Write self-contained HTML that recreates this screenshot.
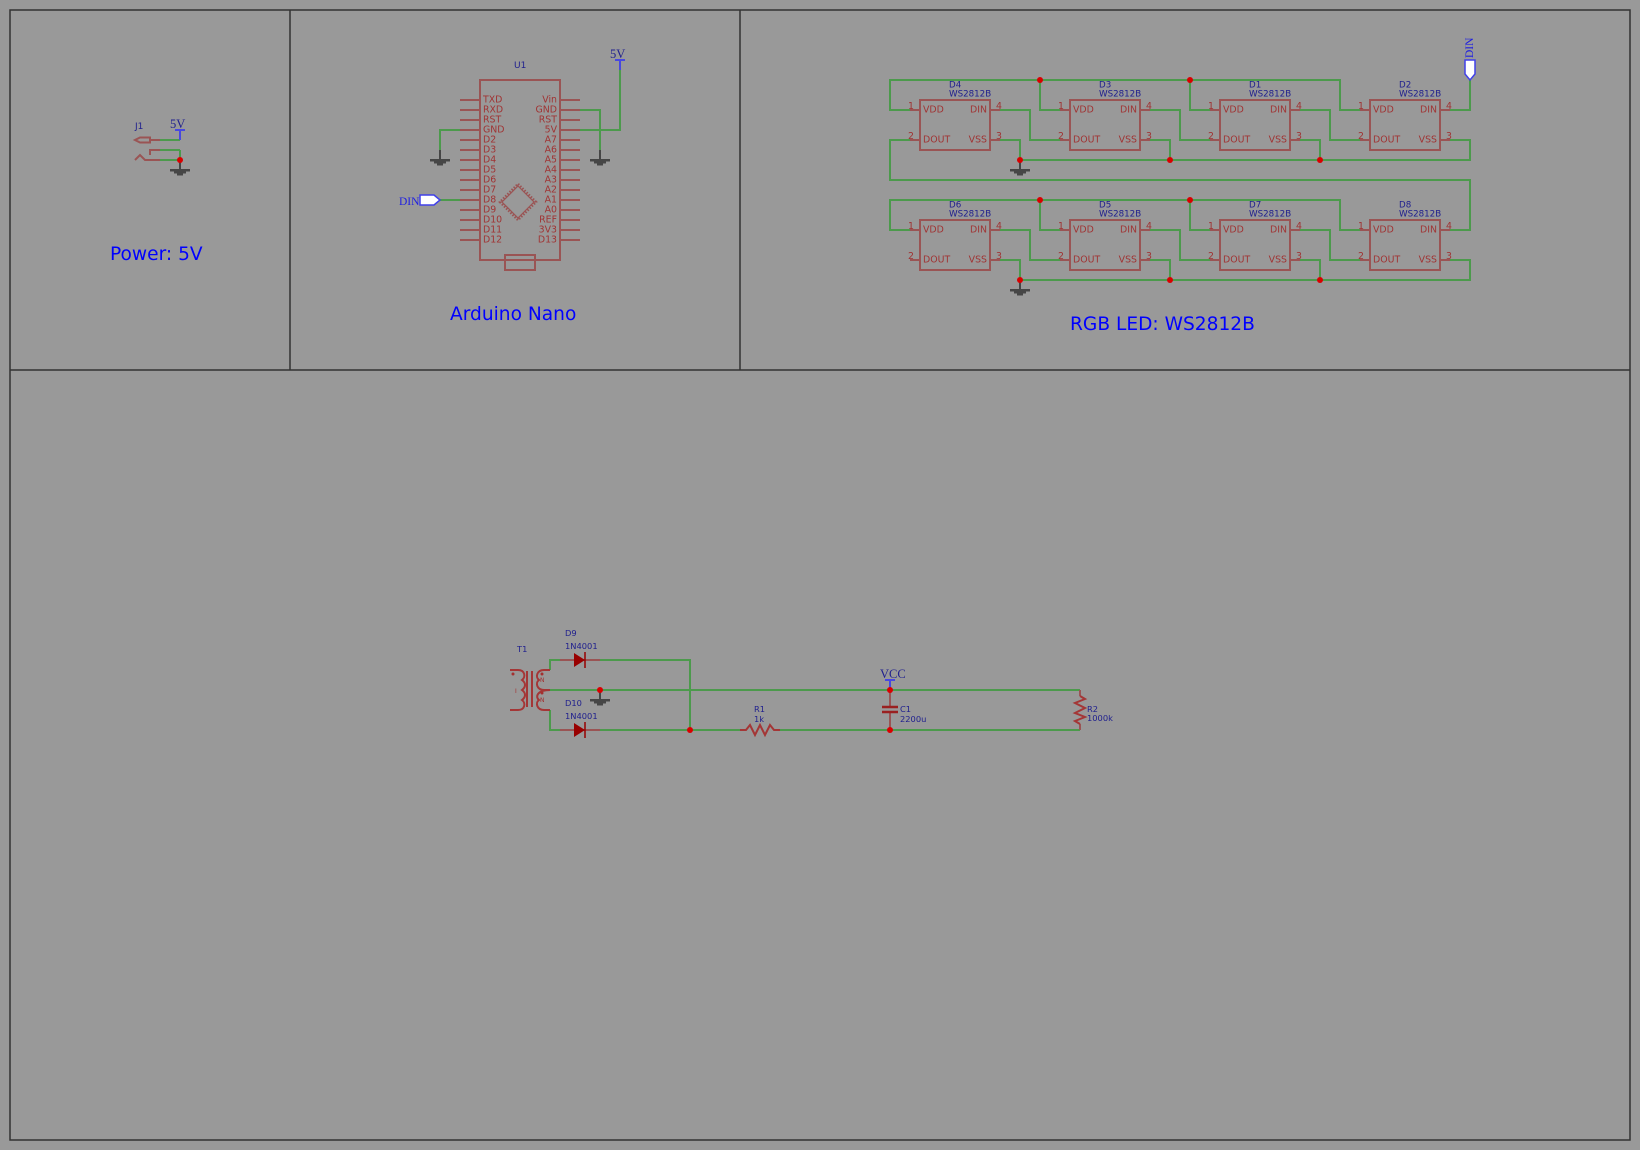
<!DOCTYPE html>
<html><head><meta charset="utf-8"><style>
html,body{margin:0;padding:0;background:#999;width:1640px;height:1150px;overflow:hidden}
svg{display:block}
text{font-family:"DejaVu Sans","Liberation Sans",sans-serif}
.w{stroke:#4c9a4c;stroke-width:2;fill:none}
.b{stroke:#9a5454;stroke-width:2;fill:none}
.r{stroke:#a43636;stroke-width:2;fill:none}
.k{stroke:#464646;stroke-width:2;fill:none}
.n{stroke:#4848e0;stroke-width:2;fill:none}
.p{fill:#a03434;font-size:9.4px;transform:translateY(-1px)}
.q{fill:#a03434;font-size:9.4px;text-anchor:middle}
.l{fill:#20208e;font-size:8.7px;transform:translateY(.5px)}
.s{fill:#20208e;font-size:8.3px;transform:translateY(-1px)}
.v{fill:#20208e;font-family:"Liberation Serif",serif;font-size:12.500px;transform:translateY(-1px)}
.d{fill:#2020e0;font-family:"Liberation Serif",serif;font-size:11.500px}
.t{fill:#0000ff;font-size:18.600px}
.e{text-anchor:end}
.j{fill:#d80000}
.g{fill:#464646}
</style></head><body>
<svg width="1640" height="1150" viewBox="0 0 1640 1150" xmlns="http://www.w3.org/2000/svg">
<rect width="1640" height="1150" fill="#999"/>
<g stroke="#333" stroke-width="1.500" fill="none">
<rect x="10" y="10" width="1620" height="1130"/>
<path d="M290 10V370M740 10V370M10 370H1630"/>
</g>

<!-- Power -->
<path class="w" d="M160 140H180M180 150H160M180 150V160H160"/>
<path class="b" d="M160 140H150M150 137.500H140L135 140L140 142.500H150ZM160 150H150V155M160 160H145L140 155L135 160"/>
<path class="n" d="M180 140V130M175 130H185"/>
<text class="s" x="135" y="130" style="font-size:9px">J1</text>
<text class="v" x="170" y="129">5V</text>
<path class="k" d="M180 160V170"/>
<path class="g" d="M170 169H190V171.500H186V173.500H183V175.500H177V173.500H174V171.500H170Z"/>
<circle class="j" cx="180" cy="160" r="3"/>
<text class="t" x="110" y="260">Power: 5V</text>

<!-- Arduino -->
<rect class="b" x="480" y="80" width="80" height="180"/>
<rect class="b" x="505" y="255" width="30" height="15"/>
<path class="b" d="M460 100H480M460 110H480M460 120H480M460 130H480M460 140H480M460 150H480M460 160H480M460 170H480M460 180H480M460 190H480M460 200H480M460 210H480M460 220H480M460 230H480M460 240H480M560 100H580M560 110H580M560 120H580M560 130H580M560 140H580M560 150H580M560 160H580M560 170H580M560 180H580M560 190H580M560 200H580M560 210H580M560 220H580M560 230H580M560 240H580"/>
<polygon points="518,186 534,202 518,218 502,202" fill="none" stroke="#9a5454" stroke-width="1.200"/>
<polygon points="518,184 536,202 518,220 500,202" fill="none" stroke="#9a5454" stroke-width="2.500" stroke-dasharray="1.500 1.500"/>
<text class="p" x="483" y="103.500">TXD</text><text class="p" x="483" y="113.500">RXD</text><text class="p" x="483" y="123.500">RST</text><text class="p" x="483" y="133.500">GND</text><text class="p" x="483" y="143.500">D2</text><text class="p" x="483" y="153.500">D3</text><text class="p" x="483" y="163.500">D4</text><text class="p" x="483" y="173.500">D5</text><text class="p" x="483" y="183.500">D6</text><text class="p" x="483" y="193.500">D7</text><text class="p" x="483" y="203.500">D8</text><text class="p" x="483" y="213.500">D9</text><text class="p" x="483" y="223.500">D10</text><text class="p" x="483" y="233.500">D11</text><text class="p" x="483" y="243.500">D12</text>
<text class="p e" x="557" y="103.500">Vin</text><text class="p e" x="557" y="113.500">GND</text><text class="p e" x="557" y="123.500">RST</text><text class="p e" x="557" y="133.500">5V</text><text class="p e" x="557" y="143.500">A7</text><text class="p e" x="557" y="153.500">A6</text><text class="p e" x="557" y="163.500">A5</text><text class="p e" x="557" y="173.500">A4</text><text class="p e" x="557" y="183.500">A3</text><text class="p e" x="557" y="193.500">A2</text><text class="p e" x="557" y="203.500">A1</text><text class="p e" x="557" y="213.500">A0</text><text class="p e" x="557" y="223.500">REF</text><text class="p e" x="557" y="233.500">3V3</text><text class="p e" x="557" y="243.500">D13</text>
<text class="s" x="514" y="69" style="font-size:9px">U1</text>
<path class="w" d="M460 130H440V150M580 110H600V150M580 130H620V70M440 200H460"/>
<path class="k" d="M440 150V160M600 150V160"/>
<path class="g" d="M430 159H450V161.500H446V163.500H443V165.500H437V163.500H434V161.500H430Z"/>
<path class="g" d="M590 159H610V161.500H606V163.500H603V165.500H597V163.500H594V161.500H590Z"/>
<path class="n" d="M620 70V60M615 60H625"/>
<text class="v" x="610" y="59">5V</text>
<path d="M420 195H434L440 200L434 205H420Z" fill="#fff" stroke="#4040e8" stroke-width="1.500"/>
<text class="d" x="399" y="205">DIN</text>
<text class="t" x="450" y="320">Arduino Nano</text>

<!-- LED wires -->
<path class="w" d="M910 110H890V80H1340V110H1360M1040 80V110H1060M1190 80V110H1210M1450 110H1470V80M1000 110H1030V140H1060M1150 110H1180V140H1210M1300 110H1330V140H1360M1000 140H1020V160M1150 140H1170V160M1300 140H1320V160M1450 140H1470V160H1020M910 140H890V180H1470V230H1450"/>
<path class="w" d="M910 230H890V200H1340V230H1360M1040 200V230H1060M1190 200V230H1210M1000 230H1030V260H1060M1150 230H1180V260H1210M1300 230H1330V260H1360M1000 260H1020V280M1150 260H1170V280M1300 260H1320V280M1450 260H1470V280H1020"/>
<path class="k" d="M1020 160V170M1020 280V290"/>
<path class="g" d="M1010 169H1030V171.500H1026V173.500H1023V175.500H1017V173.500H1014V171.500H1010Z"/>
<path class="g" d="M1010 289H1030V291.500H1026V293.500H1023V295.500H1017V293.500H1014V291.500H1010Z"/>
<g class="j"><circle cx="1040" cy="80" r="3"/><circle cx="1190" cy="80" r="3"/><circle cx="1020" cy="160" r="3"/><circle cx="1170" cy="160" r="3"/><circle cx="1320" cy="160" r="3"/><circle cx="1040" cy="200" r="3"/><circle cx="1190" cy="200" r="3"/><circle cx="1020" cy="280" r="3"/><circle cx="1170" cy="280" r="3"/><circle cx="1320" cy="280" r="3"/></g>
<path d="M1465 60H1475V74L1470 80L1465 74Z" fill="#fff" stroke="#4040e8" stroke-width="1.500"/>
<text class="d" transform="translate(1473,58) rotate(-90)">DIN</text>

<!-- LED D4 -->
<g transform="translate(920,100)"><rect class="b" width="70" height="50"/><path class="b" d="M-10 10H0M-10 40H0M70 10H80M70 40H80"/><text class="p" x="3" y="13.500">VDD</text><text class="p" x="3" y="43.500">DOUT</text><text class="p e" x="67" y="13.500">DIN</text><text class="p e" x="67" y="43.500">VSS</text><text class="q" x="-9" y="9">1</text><text class="q" x="-9" y="39">2</text><text class="q" x="79" y="9">4</text><text class="q" x="79" y="39">3</text><text class="l" x="29" y="-13">D4</text><text class="l" x="29" y="-4">WS2812B</text></g>
<!-- LED D3 -->
<g transform="translate(1070,100)"><rect class="b" width="70" height="50"/><path class="b" d="M-10 10H0M-10 40H0M70 10H80M70 40H80"/><text class="p" x="3" y="13.500">VDD</text><text class="p" x="3" y="43.500">DOUT</text><text class="p e" x="67" y="13.500">DIN</text><text class="p e" x="67" y="43.500">VSS</text><text class="q" x="-9" y="9">1</text><text class="q" x="-9" y="39">2</text><text class="q" x="79" y="9">4</text><text class="q" x="79" y="39">3</text><text class="l" x="29" y="-13">D3</text><text class="l" x="29" y="-4">WS2812B</text></g>
<!-- LED D1 -->
<g transform="translate(1220,100)"><rect class="b" width="70" height="50"/><path class="b" d="M-10 10H0M-10 40H0M70 10H80M70 40H80"/><text class="p" x="3" y="13.500">VDD</text><text class="p" x="3" y="43.500">DOUT</text><text class="p e" x="67" y="13.500">DIN</text><text class="p e" x="67" y="43.500">VSS</text><text class="q" x="-9" y="9">1</text><text class="q" x="-9" y="39">2</text><text class="q" x="79" y="9">4</text><text class="q" x="79" y="39">3</text><text class="l" x="29" y="-13">D1</text><text class="l" x="29" y="-4">WS2812B</text></g>
<!-- LED D2 -->
<g transform="translate(1370,100)"><rect class="b" width="70" height="50"/><path class="b" d="M-10 10H0M-10 40H0M70 10H80M70 40H80"/><text class="p" x="3" y="13.500">VDD</text><text class="p" x="3" y="43.500">DOUT</text><text class="p e" x="67" y="13.500">DIN</text><text class="p e" x="67" y="43.500">VSS</text><text class="q" x="-9" y="9">1</text><text class="q" x="-9" y="39">2</text><text class="q" x="79" y="9">4</text><text class="q" x="79" y="39">3</text><text class="l" x="29" y="-13">D2</text><text class="l" x="29" y="-4">WS2812B</text></g>
<!-- LED D6 -->
<g transform="translate(920,220)"><rect class="b" width="70" height="50"/><path class="b" d="M-10 10H0M-10 40H0M70 10H80M70 40H80"/><text class="p" x="3" y="13.500">VDD</text><text class="p" x="3" y="43.500">DOUT</text><text class="p e" x="67" y="13.500">DIN</text><text class="p e" x="67" y="43.500">VSS</text><text class="q" x="-9" y="9">1</text><text class="q" x="-9" y="39">2</text><text class="q" x="79" y="9">4</text><text class="q" x="79" y="39">3</text><text class="l" x="29" y="-13">D6</text><text class="l" x="29" y="-4">WS2812B</text></g>
<!-- LED D5 -->
<g transform="translate(1070,220)"><rect class="b" width="70" height="50"/><path class="b" d="M-10 10H0M-10 40H0M70 10H80M70 40H80"/><text class="p" x="3" y="13.500">VDD</text><text class="p" x="3" y="43.500">DOUT</text><text class="p e" x="67" y="13.500">DIN</text><text class="p e" x="67" y="43.500">VSS</text><text class="q" x="-9" y="9">1</text><text class="q" x="-9" y="39">2</text><text class="q" x="79" y="9">4</text><text class="q" x="79" y="39">3</text><text class="l" x="29" y="-13">D5</text><text class="l" x="29" y="-4">WS2812B</text></g>
<!-- LED D7 -->
<g transform="translate(1220,220)"><rect class="b" width="70" height="50"/><path class="b" d="M-10 10H0M-10 40H0M70 10H80M70 40H80"/><text class="p" x="3" y="13.500">VDD</text><text class="p" x="3" y="43.500">DOUT</text><text class="p e" x="67" y="13.500">DIN</text><text class="p e" x="67" y="43.500">VSS</text><text class="q" x="-9" y="9">1</text><text class="q" x="-9" y="39">2</text><text class="q" x="79" y="9">4</text><text class="q" x="79" y="39">3</text><text class="l" x="29" y="-13">D7</text><text class="l" x="29" y="-4">WS2812B</text></g>
<!-- LED D8 -->
<g transform="translate(1370,220)"><rect class="b" width="70" height="50"/><path class="b" d="M-10 10H0M-10 40H0M70 10H80M70 40H80"/><text class="p" x="3" y="13.500">VDD</text><text class="p" x="3" y="43.500">DOUT</text><text class="p e" x="67" y="13.500">DIN</text><text class="p e" x="67" y="43.500">VSS</text><text class="q" x="-9" y="9">1</text><text class="q" x="-9" y="39">2</text><text class="q" x="79" y="9">4</text><text class="q" x="79" y="39">3</text><text class="l" x="29" y="-13">D8</text><text class="l" x="29" y="-4">WS2812B</text></g>
<text class="t" x="1070" y="330">RGB LED: WS2812B</text>

<!-- Power supply -->
<path class="w" d="M550 670V660H560M600 660H690V730M550 690H1080M550 710V730H560M600 730H740M780 730H1080"/>
<path class="r" d="M510 670H518C525 670 526 677 522 680C526 683 526 687 522 690C526 693 526 697 522 700C526 703 525 710 518 710H510"/>
<path class="r" d="M527 671V707M532 671V707"/>
<path class="r" d="M550 670H544C537 670 535 677 539 680C535 683 537 690 544 690H550C537 690 535 697 539 700C535 703 537 710 544 710H550"/>
<circle cx="513" cy="674" r="1.500" fill="#a43030"/><circle cx="542" cy="674" r="1.500" fill="#a43030"/><circle cx="542" cy="693" r="1.500" fill="#a43030"/>
<text x="515" y="693" style="font-size:6px;fill:#a43030">I</text><text x="540" y="682" style="font-size:6px;fill:#a43030">N</text><text x="540" y="702" style="font-size:6px;fill:#a43030">N</text>
<text class="s" x="517" y="653">T1</text>
<path class="b" d="M560 660H600M560 730H600"/>
<path d="M574 653L585 660L574 667ZM574 723L585 730L574 737Z" fill="#980000"/>
<path d="M585 652V668M585 722V738" stroke="#980000" stroke-width="1.500" fill="none"/>
<text class="s" x="565" y="637">D9</text><text class="s" x="565" y="650">1N4001</text>
<text class="s" x="565" y="707">D10</text><text class="s" x="565" y="720">1N4001</text>
<path class="k" d="M600 690V700"/>
<path class="g" d="M590 699H610V701.500H606V703.500H603V705.500H597V703.500H594V701.500H590Z"/>
<path class="r" d="M740 730H746L750 725L755 735L760 725L765 735L770 725L774 730H780"/>
<text class="s" x="754" y="713">R1</text><text class="s" x="754" y="723">1k</text>
<path class="b" d="M890 690V707M890 712V730"/>
<path d="M882 707H898M882 712H898" stroke="#9a2020" stroke-width="2.500" fill="none"/>
<text class="s" x="900" y="713">C1</text><text class="s" x="900" y="723">2200u</text>
<path class="n" d="M890 690V680M885 680H895"/>
<text class="v" x="880" y="679">VCC</text>
<path class="b" d="M1080 690V696M1080 724V730"/>
<path class="r" d="M1080 696L1085 699L1075 703L1085 708L1075 713L1085 717L1075 721L1080 724"/>
<text class="s" x="1087" y="713">R2</text><text class="s" x="1087" y="722">1000k</text>
<g class="j"><circle cx="600" cy="690" r="3"/><circle cx="690" cy="730" r="3"/><circle cx="890" cy="690" r="3"/><circle cx="890" cy="730" r="3"/></g>
</svg>
</body></html>
